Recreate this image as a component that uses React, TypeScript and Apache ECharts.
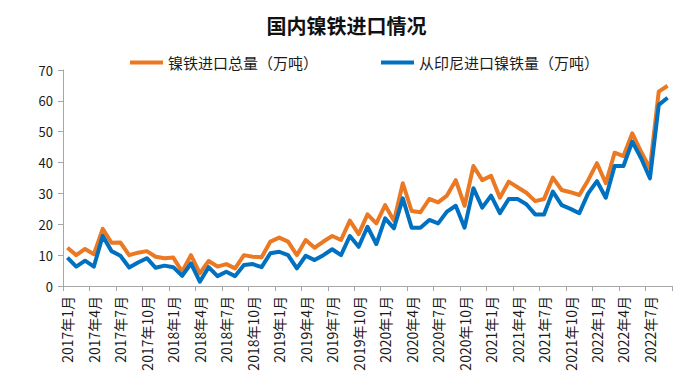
import React, { useEffect, useRef } from "react";
import * as echarts from "echarts";

const startYear = 2017;
const monthCount = 69;
const categories: string[] = [];
for (let i = 0; i < monthCount; i++) {
  categories.push(`${startYear + Math.floor(i / 12)}年${(i % 12) + 1}月`);
}

const totalImports = [12.4, 10.0, 12.0, 10.3, 18.5, 14.0, 14.1, 10.0, 10.8, 11.3, 9.5, 9.0, 9.2, 4.6, 10.0, 4.1, 8.1, 6.3, 7.1, 5.7, 10.0, 9.5, 9.3, 14.4, 15.7, 14.4, 10.0, 14.9, 12.4, 14.4, 16.2, 14.9, 21.2, 16.8, 23.2, 20.3, 26.2, 21.1, 33.3, 24.3, 23.9, 28.2, 27.1, 29.3, 34.3, 26.0, 38.9, 34.3, 35.7, 28.6, 33.8, 32.0, 30.2, 27.5, 28.2, 35.1, 31.1, 30.4, 29.5, 34.3, 39.8, 33.3, 43.2, 42.1, 49.5, 43.5, 38.1, 63.0, 64.9];
const indonesiaImports = [9.2, 6.3, 8.2, 6.3, 16.2, 11.3, 9.8, 6.0, 7.6, 9.0, 5.9, 6.6, 6.1, 3.3, 7.3, 1.4, 6.1, 3.2, 4.6, 3.2, 6.8, 7.1, 6.1, 10.6, 11.1, 10.0, 5.7, 9.8, 8.4, 10.0, 11.9, 10.0, 16.2, 12.7, 19.2, 13.6, 21.9, 18.7, 28.4, 18.9, 18.9, 21.4, 20.3, 24.1, 26.0, 18.9, 31.7, 25.4, 29.3, 23.6, 28.2, 28.2, 26.5, 23.2, 23.2, 30.6, 26.2, 25.0, 23.6, 30.0, 34.0, 28.6, 38.9, 38.9, 46.8, 41.4, 34.9, 58.7, 61.0];

const seriesNames = ["镍铁进口总量（万吨）", "从印尼进口镍铁量（万吨）"];
const titleText = "国内镍铁进口情况";

const FONT = "'Noto Sans CJK SC', 'Noto Sans', sans-serif";

export default function App() {
  const ref = useRef<HTMLDivElement>(null);
  useEffect(() => {
    document.body.style.margin = "0";
    if (!ref.current) return;
    const chart = echarts.init(ref.current, undefined, { renderer: "svg" });
    const legendText = { fontSize: 15, color: "#1a1a1a", fontFamily: FONT };
    chart.setOption({
      animation: false,
      backgroundColor: "#ffffff",
      title: {
        text: titleText,
        left: "center",
        top: 10,
        textStyle: { fontSize: 20, fontWeight: "bold", color: "#111", fontFamily: FONT },
      },
      legend: [
        {
          data: [seriesNames[0]],
          left: 125,
          top: 50,
          icon: "rect",
          itemWidth: 33,
          itemHeight: 4,
          itemGap: 10,
          textStyle: legendText,
        },
        {
          data: [seriesNames[1]],
          left: 376,
          top: 50,
          icon: "rect",
          itemWidth: 33,
          itemHeight: 4,
          itemGap: 10,
          textStyle: legendText,
        },
      ],
      grid: { left: 63, right: 21, top: 70, bottom: 102, containLabel: false },
      xAxis: {
        type: "category",
        data: categories,
        boundaryGap: true,
        axisLine: { show: true, lineStyle: { color: "#a6a6a6", width: 1 } },
        axisTick: { show: true, interval: 2, length: 5, lineStyle: { color: "#a6a6a6" } },
        axisLabel: {
          interval: 2,
          rotate: 90,
          fontSize: 14,
          color: "#1a1a1a",
          margin: 10,
          fontFamily: FONT,
        },
        splitLine: { show: false },
      },
      yAxis: {
        type: "value",
        min: 0,
        max: 70,
        interval: 10,
        axisLine: { show: true, lineStyle: { color: "#a6a6a6", width: 1 } },
        axisTick: { show: true, length: 5, lineStyle: { color: "#a6a6a6" } },
        axisLabel: { fontSize: 13, color: "#1a1a1a", margin: 10, fontFamily: FONT },
        splitLine: { show: false },
      },
      series: [
        {
          name: seriesNames[0],
          type: "line",
          data: totalImports,
          symbol: "none",
          lineStyle: { color: "#EB7823", width: 4, join: "round" },
          itemStyle: { color: "#EB7823" },
          z: 2,
        },
        {
          name: seriesNames[1],
          type: "line",
          data: indonesiaImports,
          symbol: "none",
          lineStyle: { color: "#0070C0", width: 4, join: "round" },
          itemStyle: { color: "#0070C0" },
          z: 3,
        },
      ],
    });
    return () => chart.dispose();
  }, []);
  return <div ref={ref} style={{ width: 693, height: 388 }} />;
}
